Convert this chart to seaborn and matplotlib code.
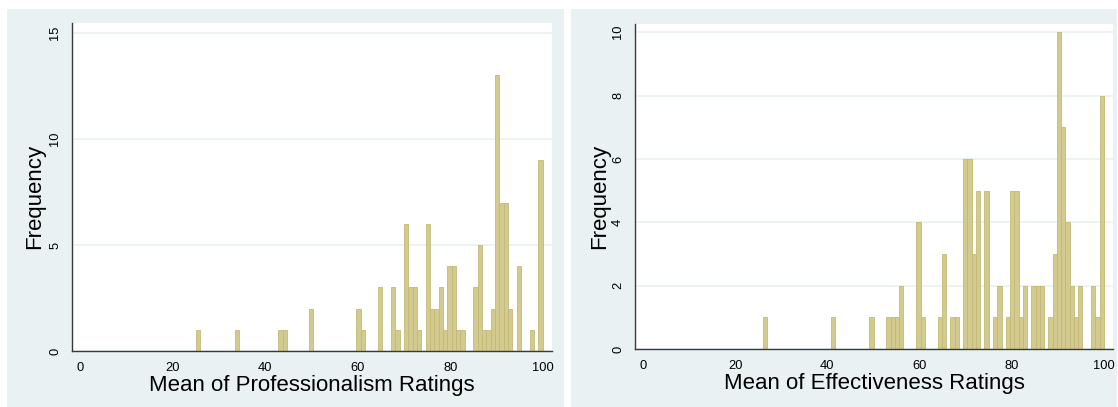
import numpy as np
import pandas as pd
import seaborn as sns
import matplotlib
matplotlib.use("Agg")
import matplotlib.pyplot as plt
from matplotlib.patches import Rectangle

# Professionalism ratings: 80 equal-width bins from 25 to 100
prof_range = (25.0, 100.0)
prof_bins = [0, 9, 19, 20, 26, 37, 38, 42, 45, 46, 48, 49, 50, 51, 53, 54, 55, 56,
             57, 58, 59, 60, 61, 64, 65, 66, 67, 68, 69, 70, 71, 72, 74, 77, 79]
prof_counts = [1, 1, 1, 1, 2, 2, 1, 3, 3, 1, 6, 3, 3, 1, 6, 2, 2, 3,
               1, 4, 4, 1, 1, 3, 5, 1, 1, 2, 13, 7, 7, 2, 4, 1, 9]

# Effectiveness ratings: 80 equal-width bins from 26 to 100
eff_range = (26.0, 100.0)
eff_bins = [0, 16, 25, 29, 30, 31, 32, 36, 37, 41, 42, 44, 45, 47, 48, 49, 50, 52,
            54, 55, 57, 58, 59, 60, 61, 63, 64, 65, 67, 68, 69, 70, 71, 72, 73, 74,
            77, 78, 79]
eff_counts = [1, 1, 1, 1, 1, 1, 2, 4, 1, 1, 3, 1, 1, 6, 6, 3, 5, 5,
              1, 2, 1, 5, 5, 1, 2, 2, 2, 2, 1, 3, 10, 7, 4, 2, 1, 2,
              2, 1, 8]
n_bins = 80

x_ticks = [0, 20, 40, 60, 80, 100]
prof_yticks = [0, 5, 10, 15]
eff_yticks = [0, 2, 4, 6, 8, 10]

sns.set_style("white")
plt.rcParams["font.family"] = ["Liberation Sans", "DejaVu Sans"]
plt.rcParams["text.color"] = "black"
plt.rcParams["axes.labelcolor"] = "black"

W, H = 1118, 407
fig = plt.figure(figsize=(W / 100, H / 100), dpi=100)
fig.patch.set_facecolor("white")

REGION = "#e9f1f3"
BAR = "#d3ca8f"
BAR_EDGE = "#c4b977"
AXIS = "#3a3a3a"


def px_box(x0, y0, x1, y1):
    """Convert a pixel box (top-left origin) to figure fractions."""
    return [x0 / W, 1 - y1 / H, (x1 - x0) / W, (y1 - y0) / H]


# graph regions behind each panel
for x0, x1 in [(7, 564), (571, 1117)]:
    l, b, w, h = px_box(x0, 9, x1, 407)
    fig.patches.append(Rectangle((l, b), w, h, transform=fig.transFigure,
                                 facecolor=REGION, edgecolor="none", zorder=-5))


def draw_panel(rect, rng, idx, counts, yticks, ylim_top, xlabel, ylab_x):
    ax = fig.add_axes(px_box(*rect))
    width = (rng[1] - rng[0]) / n_bins
    left_edges = rng[0] + width * np.array(idx, dtype=float)
    df = pd.DataFrame({"rating": left_edges + width / 2,
                       "n": np.array(counts, dtype=float)})
    sns.histplot(data=df, x="rating", weights="n", binwidth=width,
                 binrange=rng, ax=ax, color=BAR, edgecolor=BAR_EDGE,
                 linewidth=0.6, alpha=1.0)
    ax.set_xlim(-1.75, 102.0)
    ax.set_ylim(0, ylim_top)
    ax.set_facecolor("white")
    ax.set_xticks(x_ticks)
    ax.set_yticks(yticks)
    ax.set_yticklabels([str(t) for t in yticks], rotation=90, va="center")
    ax.yaxis.grid(True, color=REGION, linewidth=1.2)
    ax.xaxis.grid(False)
    ax.set_axisbelow(True)
    for s in ["top", "right"]:
        ax.spines[s].set_visible(False)
    for s in ["left", "bottom"]:
        ax.spines[s].set_color(AXIS)
        ax.spines[s].set_linewidth(1.0)
    ax.tick_params(axis="both", direction="out", length=4.3, width=0.9,
                   color=AXIS, labelsize=9.3, labelcolor="black", pad=3.5)
    ax.set_xlabel(xlabel, fontsize=16, labelpad=1)
    ax.set_ylabel("Frequency", fontsize=16)
    ax.yaxis.set_label_coords(ylab_x, 0.47)
    return ax


draw_panel((72, 23, 552, 351), prof_range, prof_bins, prof_counts,
           prof_yticks, 15.47, "Mean of Professionalism Ratings", -0.056)
draw_panel((635, 24, 1113, 349), eff_range, eff_bins, eff_counts,
           eff_yticks, 10.26, "Mean of Effectiveness Ratings", -0.052)

fig.savefig("out.png", dpi=100, facecolor="white")
